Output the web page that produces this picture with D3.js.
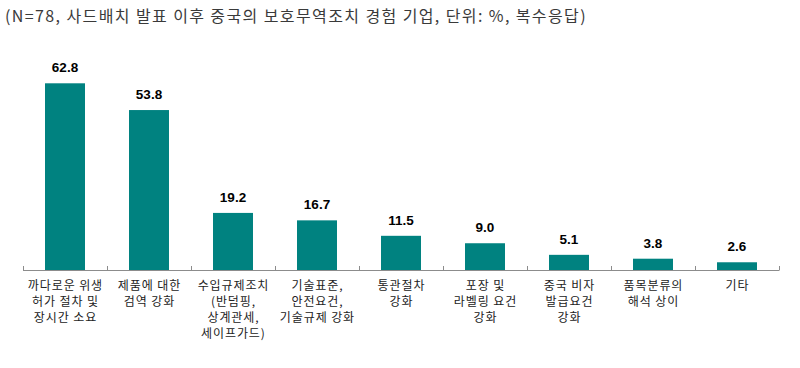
<!DOCTYPE html>
<html><head><meta charset="utf-8">
<script src="https://cdn.jsdelivr.net/npm/d3@7/dist/d3.min.js"></script>
<style>body{margin:0;background:#fff}svg{display:block}</style>
</head><body>
<script>
const title = "(N=78, 사드배치 발표 이후 중국의 보호무역조치 경험 기업, 단위: %, 복수응답)";
const categories = [
  ["까다로운 위생","허가 절차 및","장시간 소요"],
  ["제품에 대한","검역 강화"],
  ["수입규제조치","(반덤핑,","상계관세,","세이프가드)"],
  ["기술표준,","안전요건,","기술규제 강화"],
  ["통관절차","강화"],
  ["포장 및","라벨링 요건","강화"],
  ["중국 비자","발급요건","강화"],
  ["품목분류의","해석 상이"],
  ["기타"]
];
const values = [62.8, 53.8, 19.2, 16.7, 11.5, 9.0, 5.1, 3.8, 2.6];
const yDomain = [0, 70];

const W = 800, H = 368;
const svg = d3.select("body").append("svg").attr("width", W).attr("height", H);
const p = 0.524;
const x = d3.scaleBand().domain(d3.range(values.length)).range([23, 779]).paddingInner(p).paddingOuter(p/2);
const y = d3.scaleLinear().domain(yDomain).range([270, 270 - 70*2.973]);

svg.append("text").attr("x", 5).attr("y", 22).attr("font-family", "'Noto Sans CJK KR', sans-serif")
  .attr("font-size", 16).attr("letter-spacing", 1.4).attr("fill", "#3a3a3a").text(title);

svg.selectAll("rect.bar").data(values).join("rect").attr("class", "bar")
  .attr("x", (d, i) => x(i)).attr("width", x.bandwidth())
  .attr("y", d => y(d)).attr("height", d => y(0) - y(d)).attr("fill", "#008280");

svg.selectAll("text.val").data(values).join("text").attr("class", "val")
  .attr("x", (d, i) => x(i) + x.bandwidth()/2).attr("y", d => y(d) - 11)
  .attr("text-anchor", "middle").attr("font-family", "'Liberation Sans', Arial, sans-serif")
  .attr("font-weight", "bold").attr("font-size", 13.5).attr("fill", "#000")
  .text(d => d.toFixed(1));

// axis
const step = x.step();
const g = svg.append("g");
g.append("line").attr("x1", x.range()[0]).attr("x2", x.range()[1]).attr("y1", y(0)+0.5).attr("y2", y(0)+0.5)
  .attr("stroke", "#8c8c8c").attr("stroke-width", 1);
const tickX = d3.range(values.length + 1).map(i => x.range()[0] + i*step);
g.selectAll("line.tick").data(tickX).join("line").attr("class", "tick")
  .attr("x1", d => Math.round(d)+0.5).attr("x2", d => Math.round(d)+0.5)
  .attr("y1", y(0)-4).attr("y2", y(0)+0.5).attr("stroke", "#8c8c8c");

const labels = svg.selectAll("text.cat").data(categories).join("text").attr("class", "cat")
  .attr("font-family", "'Noto Sans CJK KR', sans-serif").attr("font-size", 12).attr("fill", "#222")
  .attr("letter-spacing", 0.9).attr("text-anchor", "middle");
labels.each(function(lines, i) {
  const t = d3.select(this);
  lines.forEach((l, j) => {
    t.append("tspan").attr("x", x(i) + x.bandwidth()/2 + 0.45).attr("y", 290 + j*16).text(l);
  });
});
</script>
</body></html>
